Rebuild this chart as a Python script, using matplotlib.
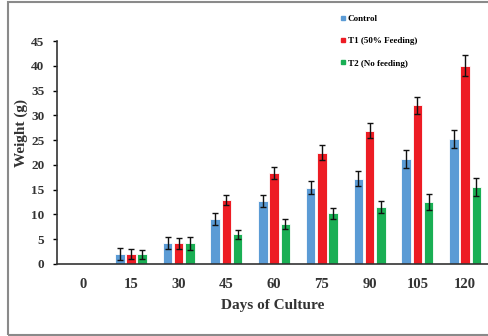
import matplotlib
matplotlib.use("Agg")
import matplotlib.pyplot as plt
from matplotlib.lines import Line2D
from matplotlib.patches import Rectangle
import numpy as np

days = ["0", "15", "30", "45", "60", "75", "90", "105", "120"]
control = [0, 2.0, 4.2, 9.0, 12.8, 15.4, 17.2, 21.2, 25.3]
control_err = [0, 1.2, 1.2, 1.2, 1.2, 1.3, 1.5, 1.8, 1.8]
t1 = [0, 2.0, 4.2, 13.0, 18.3, 22.5, 26.9, 32.0, 40.0]
t1_err = [0, 1.0, 1.1, 1.0, 1.2, 1.5, 1.5, 1.8, 2.1]
t2 = [0, 2.0, 4.2, 6.0, 8.0, 10.2, 11.5, 12.5, 15.6]
t2_err = [0, 0.9, 1.3, 0.9, 1.0, 1.2, 1.2, 1.6, 1.8]
labels = ["Control", "T1 (50% Feeding)", "T2 (No feeding)"]
colors = ["#5B9BD5", "#ED1C24", "#1AAF54"]

plt.rcParams['font.family'] = ['Liberation Serif', 'DejaVu Serif']
plt.rcParams['font.weight'] = 'bold'

fig = plt.figure(figsize=(4.88, 3.36), dpi=100)
ax = fig.add_axes([57/488, 72/336, 432/488, 223/336])

x = np.arange(len(days))
w = 0.2
off = 0.235
for vals, errs, c, d in [(control, control_err, colors[0], -off), (t1, t1_err, colors[1], 0), (t2, t2_err, colors[2], off)]:
    vals = np.array(vals, dtype=float)
    errs = np.array(errs, dtype=float)
    ax.bar(x + d, vals, width=w, color=c, edgecolor='white', linewidth=0.6)
    m = vals > 0
    ax.errorbar(x[m] + d, vals[m], yerr=errs[m], fmt='none', ecolor='#111111',
                elinewidth=1.0, capsize=2.0, capthick=1.0)

ax.set_xlim(-0.55, 8.5)
ax.set_ylim(0, 45)
ax.set_yticks(range(0, 46, 5))
ax.set_xticks(x)
ax.set_xticklabels(days)
ax.tick_params(axis='x', length=0, pad=10, labelsize=10.5)
ax.tick_params(axis='y', length=3, width=1, direction='out', labelsize=9.5, pad=6)
for lab in ax.get_xticklabels() + ax.get_yticklabels():
    lab.set_fontweight('bold')
    lab.set_color('#333333')
ax.spines['top'].set_visible(False)
ax.spines['right'].set_visible(False)
ax.spines['left'].set_linewidth(1.2)
ax.spines['bottom'].set_linewidth(1.2)
ax.spines['left'].set_color('#333333')
ax.spines['bottom'].set_color('#333333')
ax.set_xlabel("Days of Culture", fontsize=11, fontweight='bold', color='#333333', labelpad=6)
ax.set_ylabel("Weight (g)", fontsize=11, fontweight='bold', color='#333333')
ax.yaxis.set_label_coords(-0.066, 0.587)

handles = [Line2D([0], [0], marker='s', linestyle='none', markersize=3, color=c) for c in colors]
leg = fig.legend(handles, labels, loc='upper left', bbox_to_anchor=(337/488, 1 - 11/336),
                 frameon=False, prop={'family': 'Liberation Serif', 'weight': 'bold', 'size': 6.5},
                 handlelength=0.5, handletextpad=0.3, labelspacing=1.55, borderaxespad=0)

fig.add_artist(Rectangle((8/488, 1.5/336), 1.2, 333/336, transform=fig.transFigure,
                         fill=False, edgecolor='#8a8a8a', linewidth=1.5))

fig.savefig("out.png", dpi=100)
